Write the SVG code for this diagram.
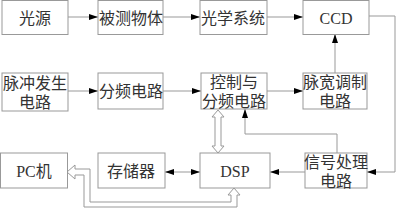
<svg xmlns="http://www.w3.org/2000/svg" width="400" height="209" viewBox="0 0 400 209">
<defs>
<marker id="ah" markerWidth="9" markerHeight="6" refX="9" refY="3" orient="auto" markerUnits="userSpaceOnUse">
<path d="M0,0 L9,3 L0,6 Z" fill="#000"/>
</marker>
<marker id="as" markerWidth="9" markerHeight="6" refX="0" refY="3" orient="auto" markerUnits="userSpaceOnUse">
<path d="M9,0 L0,3 L9,6 Z" fill="#000"/>
</marker>
<style>
.box{fill:#fff;stroke:#999;stroke-width:1}
.t{font-family:"Liberation Serif","Noto Sans CJK SC",serif;font-size:16px;fill:#333;text-anchor:middle;dominant-baseline:central}
.ln{fill:none;stroke:#999;stroke-width:1}
.ar{marker-end:url(#ah)}
.hol{fill:#fff;stroke:#999;stroke-width:1}
</style>
</defs>
<g id="connectors">
<line class="ln ar" x1="68" y1="17" x2="98" y2="17"/>
<line class="ln ar" x1="163" y1="17" x2="200" y2="17"/>
<line class="ln ar" x1="267" y1="17" x2="303" y2="17"/>
<line class="ln ar" x1="68" y1="91" x2="98" y2="91"/>
<line class="ln ar" x1="163" y1="91" x2="201" y2="91"/>
<line class="ln ar" x1="267" y1="91" x2="303" y2="91"/>
<line class="ln ar" x1="335" y1="73" x2="335" y2="34"/>
<polyline class="ln ar" points="369,16 395,16 395,172 367,172"/>
<line class="ln ar" x1="305" y1="172" x2="270" y2="172"/>
<line class="ln ar" x1="165" y1="172" x2="200" y2="172" style="marker-start:url(#as)"/>
<polyline class="ln ar" points="337,153 337,134 245,134 245,109"/>
<path class="hol" d="M218,110 L224,117 L221,117 L221,146 L224,146 L218,153 L212,146 L215,146 L215,117 L212,117 Z"/>
<path class="hol" d="M234,188 L240,195 L237,195 L237,207 L84,207 L84,175 L75,175 L75,179 L67,172 L75,165 L75,169 L90,169 L90,202 L231,202 L231,195 L228,195 Z"/>
</g>
<g id="n1"><rect class="box" x="2" y="0.5" width="66" height="34"/><text class="t" x="35" y="18">光源</text></g>
<g id="n2"><rect class="box" x="98" y="0.5" width="65" height="34"/><text class="t" x="131" y="18">被测物体</text></g>
<g id="n3"><rect class="box" x="200" y="0.5" width="67" height="34"/><text class="t" x="233" y="18">光学系统</text></g>
<g id="n4"><rect class="box" x="303" y="0.5" width="66" height="34"/><text class="t" x="336" y="18">CCD</text></g>
<g id="n5"><rect class="box" x="2" y="73" width="66" height="38"/><text class="t" x="35" y="83">脉冲发生</text><text class="t" x="35" y="102">电路</text></g>
<g id="n6"><rect class="box" x="98" y="73" width="65" height="36"/><text class="t" x="131" y="91">分频电路</text></g>
<g id="n7"><rect class="box" x="201" y="73" width="66" height="36"/><text class="t" x="234" y="82">控制与</text><text class="t" x="234" y="101">分频电路</text></g>
<g id="n8"><rect class="box" x="303" y="73" width="64" height="36"/><text class="t" x="335" y="82">脉宽调制</text><text class="t" x="335" y="101">电路</text></g>
<g id="n9"><rect class="box" x="0.5" y="153" width="67" height="35"/><text class="t" x="34" y="171">PC机</text></g>
<g id="n10"><rect class="box" x="98" y="153" width="67" height="35"/><text class="t" x="131" y="171">存储器</text></g>
<g id="n11"><rect class="box" x="200" y="153" width="70" height="35"/><text class="t" x="235" y="171">DSP</text></g>
<g id="n12"><rect class="box" x="305" y="153" width="62" height="35"/><text class="t" x="336" y="162">信号处理</text><text class="t" x="336" y="181">电路</text></g>
</svg>
